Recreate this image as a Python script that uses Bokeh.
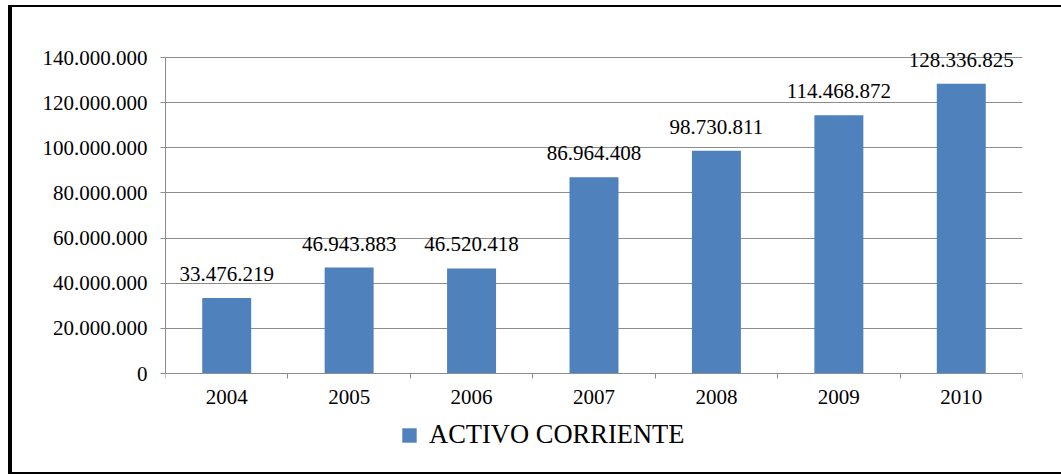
from bokeh.plotting import figure
from bokeh.models import Range1d, FixedTicker, CustomJSTickFormatter, Legend, LegendItem, ColumnDataSource, NumeralTickFormatter
from bokeh.core.properties import value
from bokeh.embed import file_html
from bokeh.resources import INLINE

years = [2004, 2005, 2006, 2007, 2008, 2009, 2010]
activo = [33476219, 46943883, 46520418, 86964408, 98730811, 114468872, 128336825]
y_ticks = [0, 20000000, 40000000, 60000000, 80000000, 100000000, 120000000, 140000000]
series_name = "ACTIVO CORRIENTE"


def fmt(v):
    return f"{v:,}".replace(",", ".")


labels = [fmt(v) for v in activo]

FONT = "'Liberation Serif', 'Times New Roman', serif"
GREY = "#8c8c8c"
BAR = "#4F81BD"

# layout (pixels)
PLOT_H = 316          # height of the 0..max value band
BELOW_H = 97          # room below the zero line for year labels and legend
ABOVE_H = 17          # room above the top gridline for data labels
Y_MAX = y_ticks[-1]
Y_MIN = -BELOW_H / PLOT_H * Y_MAX
Y_TOP = Y_MAX + ABOVE_H / PLOT_H * Y_MAX

src = ColumnDataSource(dict(x=years, y=activo, label=labels))

p = figure(frame_width=857, frame_height=PLOT_H + BELOW_H + ABOVE_H, output_backend="svg",
           toolbar_location=None,
           x_range=Range1d(years[0] - 0.5, years[-1] + 0.5), y_range=Range1d(Y_MIN, Y_TOP),
           min_border_left=153, min_border_top=33, min_border_right=39, min_border_bottom=2)
p.styles = {"margin-left": "8px", "margin-top": "5px",
            "border-left": "4px solid black", "border-top": "2px solid black",
            "border-bottom": "2px solid black"}
p.outline_line_color = None
p.background_fill_color = "white"
p.border_fill_color = "white"

r = p.vbar(x="x", top="y", width=0.4, source=src, fill_color=BAR, line_color=None)
p.text(x="x", y="y", text="label", source=src, text_align="center", text_baseline="alphabetic",
       y_offset=-24, text_font=value(FONT), text_font_size="21px", text_color="black")

p.xgrid.visible = False
p.ygrid.ticker = FixedTicker(ticks=y_ticks)
p.ygrid.grid_line_color = GREY
p.ygrid.grid_line_width = 1

ya = p.yaxis[0]
ya.ticker = FixedTicker(ticks=y_ticks)
ya.bounds = (0, Y_MAX)
ya.formatter = CustomJSTickFormatter(code="return Math.round(tick).toString().replace(/\\B(?=(\\d{3})+(?!\\d))/g, '.');")
ya.axis_line_color = GREY
ya.major_tick_line_color = GREY
ya.major_tick_out = 5
ya.major_tick_in = 0
ya.minor_tick_line_color = None
ya.major_label_standoff = 13
ya.major_label_text_font = FONT
ya.major_label_text_font_size = "21px"
ya.major_label_text_color = "black"

xa = p.xaxis[0]
xa.fixed_location = 0
xa.ticker = FixedTicker(ticks=years, minor_ticks=[y - 0.5 for y in years] + [years[-1] + 0.5])
xa.formatter = NumeralTickFormatter(format="0")
xa.axis_line_color = GREY
xa.major_tick_line_color = None
xa.major_tick_out = 0
xa.major_tick_in = 0
xa.minor_tick_line_color = GREY
xa.minor_tick_out = 5
xa.minor_tick_in = 0
xa.major_label_standoff = 11
xa.major_label_text_font = FONT
xa.major_label_text_font_size = "21px"
xa.major_label_text_color = "black"

legend = Legend(items=[LegendItem(label=series_name, renderers=[r])], location=(235, 20),
                orientation="horizontal", margin=0, padding=0, border_line_color=None,
                background_fill_alpha=0, glyph_width=18, glyph_height=18, label_standoff=11,
                label_text_font=FONT, label_text_font_size="26.5px", label_text_color="black")
p.add_layout(legend)

open("out.html", "w").write(file_html(p, INLINE))
